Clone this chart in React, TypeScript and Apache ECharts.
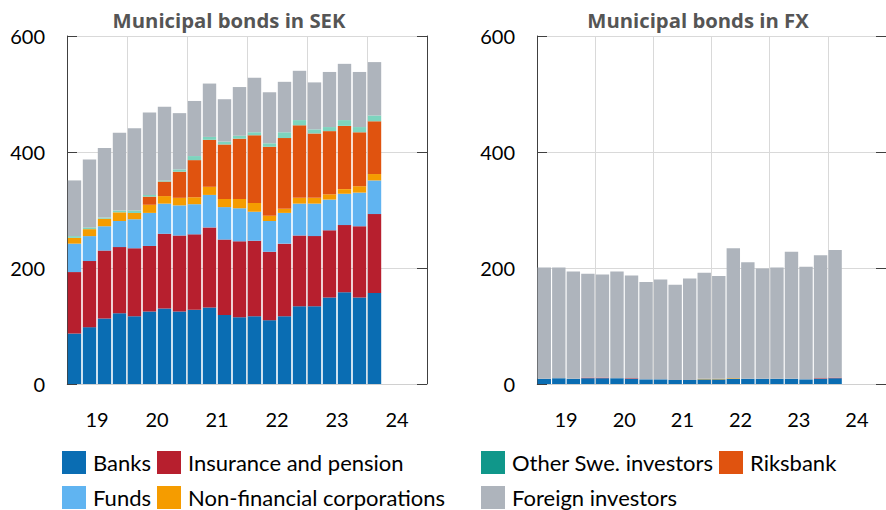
import React, { useEffect, useRef } from "react";
import * as echarts from "echarts";

const quarters = [
  "2019Q1", "2019Q2", "2019Q3", "2019Q4",
  "2020Q1", "2020Q2", "2020Q3", "2020Q4",
  "2021Q1", "2021Q2", "2021Q3", "2021Q4",
  "2022Q1", "2022Q2", "2022Q3", "2022Q4",
  "2023Q1", "2023Q2", "2023Q3", "2023Q4",
  "2024Q1", "2024Q2", "2024Q3", "2024Q4",
];
const yearLabels = ["19", "20", "21", "22", "23", "24"];

const seriesNames = [
  "Banks",
  "Insurance and pension",
  "Funds",
  "Non-financial corporations",
  "Riksbank",
  "Other Swe. investors",
  "Foreign investors",
];

// Municipal bonds in SEK (SEK billion)
const sekBanks = [87, 98, 113, 122, 117, 125, 130, 125, 128, 132, 119, 115, 117, 110, 117, 134, 134, 149, 158, 149, 157];
const sekInsurance = [106, 114, 117, 114, 117, 113, 129, 131, 130, 138, 130, 131, 130, 118, 125, 122, 121, 116, 116, 123, 136];
const sekFunds = [49, 43, 42, 45, 50, 57, 52, 52, 52, 56, 56, 57, 50, 53, 53, 55, 56, 53, 54, 58, 58];
const sekNonFin = [10, 12, 13, 15, 11, 14, 13, 13, 12, 14, 14, 16, 15, 9, 7, 10, 10, 9, 8, 11, 11];
const sekRiksbank = [0, 0, 0, 0, 0, 14, 25, 45, 64, 81, 94, 104, 117, 119, 122, 125, 111, 109, 109, 93, 91];
const sekOther = [3, 3, 2, 3, 4, 3, 2, 4, 7, 5, 5, 5, 5, 6, 10, 9, 7, 7, 10, 9, 10];
const sekForeign = [96, 117, 120, 134, 142, 142, 127, 97, 95, 92, 73, 84, 94, 88, 87, 85, 81, 95, 97, 95, 92];

// Municipal bonds in FX
const fxBanks = [9, 10, 9, 10, 10, 10, 9, 8, 8, 7, 7, 8, 8, 9, 9, 9, 9, 9, 8, 9, 10];
const fxInsurance = [0, 0, 0, 1, 1, 0, 1, 0, 0, 0, 0, 0, 0, 0, 0, 0, 0, 0, 0, 1, 1];
const fxFunds = [0, 0, 0, 0, 0, 0, 0, 0, 0, 0, 0, 0, 0, 0, 0, 0, 0, 0, 0, 0, 0];
const fxNonFin = [0, 0, 0, 0, 0, 0, 0, 0, 0, 0, 0, 1, 1, 1, 0, 0, 0, 0, 0, 0, 0];
const fxRiksbank = [0, 0, 0, 0, 0, 0, 0, 0, 0, 0, 0, 0, 0, 0, 0, 0, 0, 0, 0, 0, 0];
const fxOther = [0, 0, 0, 0, 0, 0, 0, 0, 0, 0, 0, 0, 0, 0, 0, 0, 0, 0, 0, 0, 0];
const fxForeign = [192, 191, 185, 179, 178, 184, 177, 168, 172, 164, 175, 183, 177, 224, 201, 190, 192, 219, 194, 212, 220];

const yTicks = { min: 0, max: 600, interval: 200 };

const barColors = ["#0a6db3", "#b71f2e", "#60b4f1", "#f59c00", "#e0530f", "#7dd4be", "#aeb4bc"];
const legendColors = ["#0a6db3", "#b71f2e", "#60b4f1", "#f59c00", "#e0530f", "#10978a", "#aeb4bc"];

const FONT = "Lato";

export default function App() {
  const ref = useRef<HTMLDivElement>(null);

  useEffect(() => {
    if (!ref.current) return;
    const chart = echarts.init(ref.current, undefined, { renderer: "svg" });

    const sekData = [sekBanks, sekInsurance, sekFunds, sekNonFin, sekRiksbank, sekOther, sekForeign];
    const fxData = [fxBanks, fxInsurance, fxFunds, fxNonFin, fxRiksbank, fxOther, fxForeign];

    const gridW = 360;
    const grids = [
      { left: 67, top: 36, width: gridW, height: 348 },
      { left: 537, top: 36, width: gridW, height: 348 },
    ];

    const xAxes: any[] = [];
    const yAxes: any[] = [];
    [0, 1].forEach((g) => {
      xAxes.push({
        gridIndex: g,
        type: "category",
        data: quarters,
        boundaryGap: true,
        position: "bottom",
        axisLine: { show: true, lineStyle: { color: "#d0d0d0", width: 1 } },
        axisTick: { show: false },
        axisLabel: { show: false },
        splitLine: { show: false },
      });
      xAxes.push({
        gridIndex: g,
        type: "category",
        data: yearLabels,
        boundaryGap: true,
        position: "bottom",
        axisLine: { show: false },
        axisTick: { show: false },
        axisLabel: { show: true, margin: 25, fontSize: 20, fontFamily: FONT, color: "#000" },
        splitLine: { show: true, lineStyle: { color: "#d9d9d9", width: 1 } },
      });
      yAxes.push({
        gridIndex: g,
        type: "value",
        position: "left",
        ...yTicks,
        axisLine: { show: true, lineStyle: { color: "#404040", width: 1 } },
        axisTick: { show: true, inside: true, length: 10, lineStyle: { color: "#404040" } },
        axisLabel: { show: true, margin: 22, fontSize: 20, fontFamily: FONT, color: "#000" },
        splitLine: { show: true, lineStyle: { color: "#d9d9d9", width: 1 } },
      });
      yAxes.push({
        gridIndex: g,
        type: "value",
        position: "right",
        ...yTicks,
        axisLine: { show: true, lineStyle: { color: "#404040", width: 1 } },
        axisTick: { show: true, inside: true, length: 10, lineStyle: { color: "#404040" } },
        axisLabel: { show: false },
        splitLine: { show: false },
      });
    });

    const series: any[] = [];
    seriesNames.forEach((name, i) => {
      series.push({
        name,
        type: "bar",
        stack: "sek",
        xAxisIndex: 0,
        yAxisIndex: 0,
        data: sekData[i],
        barWidth: 13.4,
        itemStyle: { color: barColors[i] },
      });
      series.push({
        name,
        type: "bar",
        stack: "fx",
        xAxisIndex: 2,
        yAxisIndex: 2,
        data: fxData[i],
        barWidth: 13.4,
        itemStyle: { color: barColors[i] },
      });
    });

    const legendPos: [number, number][] = [
      [62, 451],
      [157, 451],
      [62, 486],
      [157, 486],
      [719, 451],
      [481, 451],
      [481, 486],
    ];

    const legends = seriesNames.map((name, i) => ({
      data: [{ name, itemStyle: { color: legendColors[i] } }],
      left: legendPos[i][0],
      top: legendPos[i][1],
      padding: 0,
      itemWidth: 24,
      itemHeight: 23,
      icon: "rect",
      selectedMode: false,
      textStyle: { fontSize: 22, fontFamily: FONT, color: "#000", padding: [0, 0, 0, 2] },
    }));

    const titleStyle = { fontFamily: "Open Sans", fontWeight: "bold", fontSize: 20.3, color: "#555" };

    chart.setOption({
      animation: false,
      backgroundColor: "#fff",
      title: [
        { text: "Municipal bonds in SEK", left: 224, top: 5, textAlign: "center", textStyle: titleStyle },
        { text: "Municipal bonds in FX", left: 693, top: 5, textAlign: "center", textStyle: titleStyle },
      ],
      grid: grids,
      xAxis: xAxes,
      yAxis: yAxes,
      legend: legends,
      series,
    });

    return () => chart.dispose();
  }, []);

  return (
    <div
      ref={ref}
      style={{ position: "absolute", left: 0, top: 0, width: 886, height: 510 }}
    />
  );
}
